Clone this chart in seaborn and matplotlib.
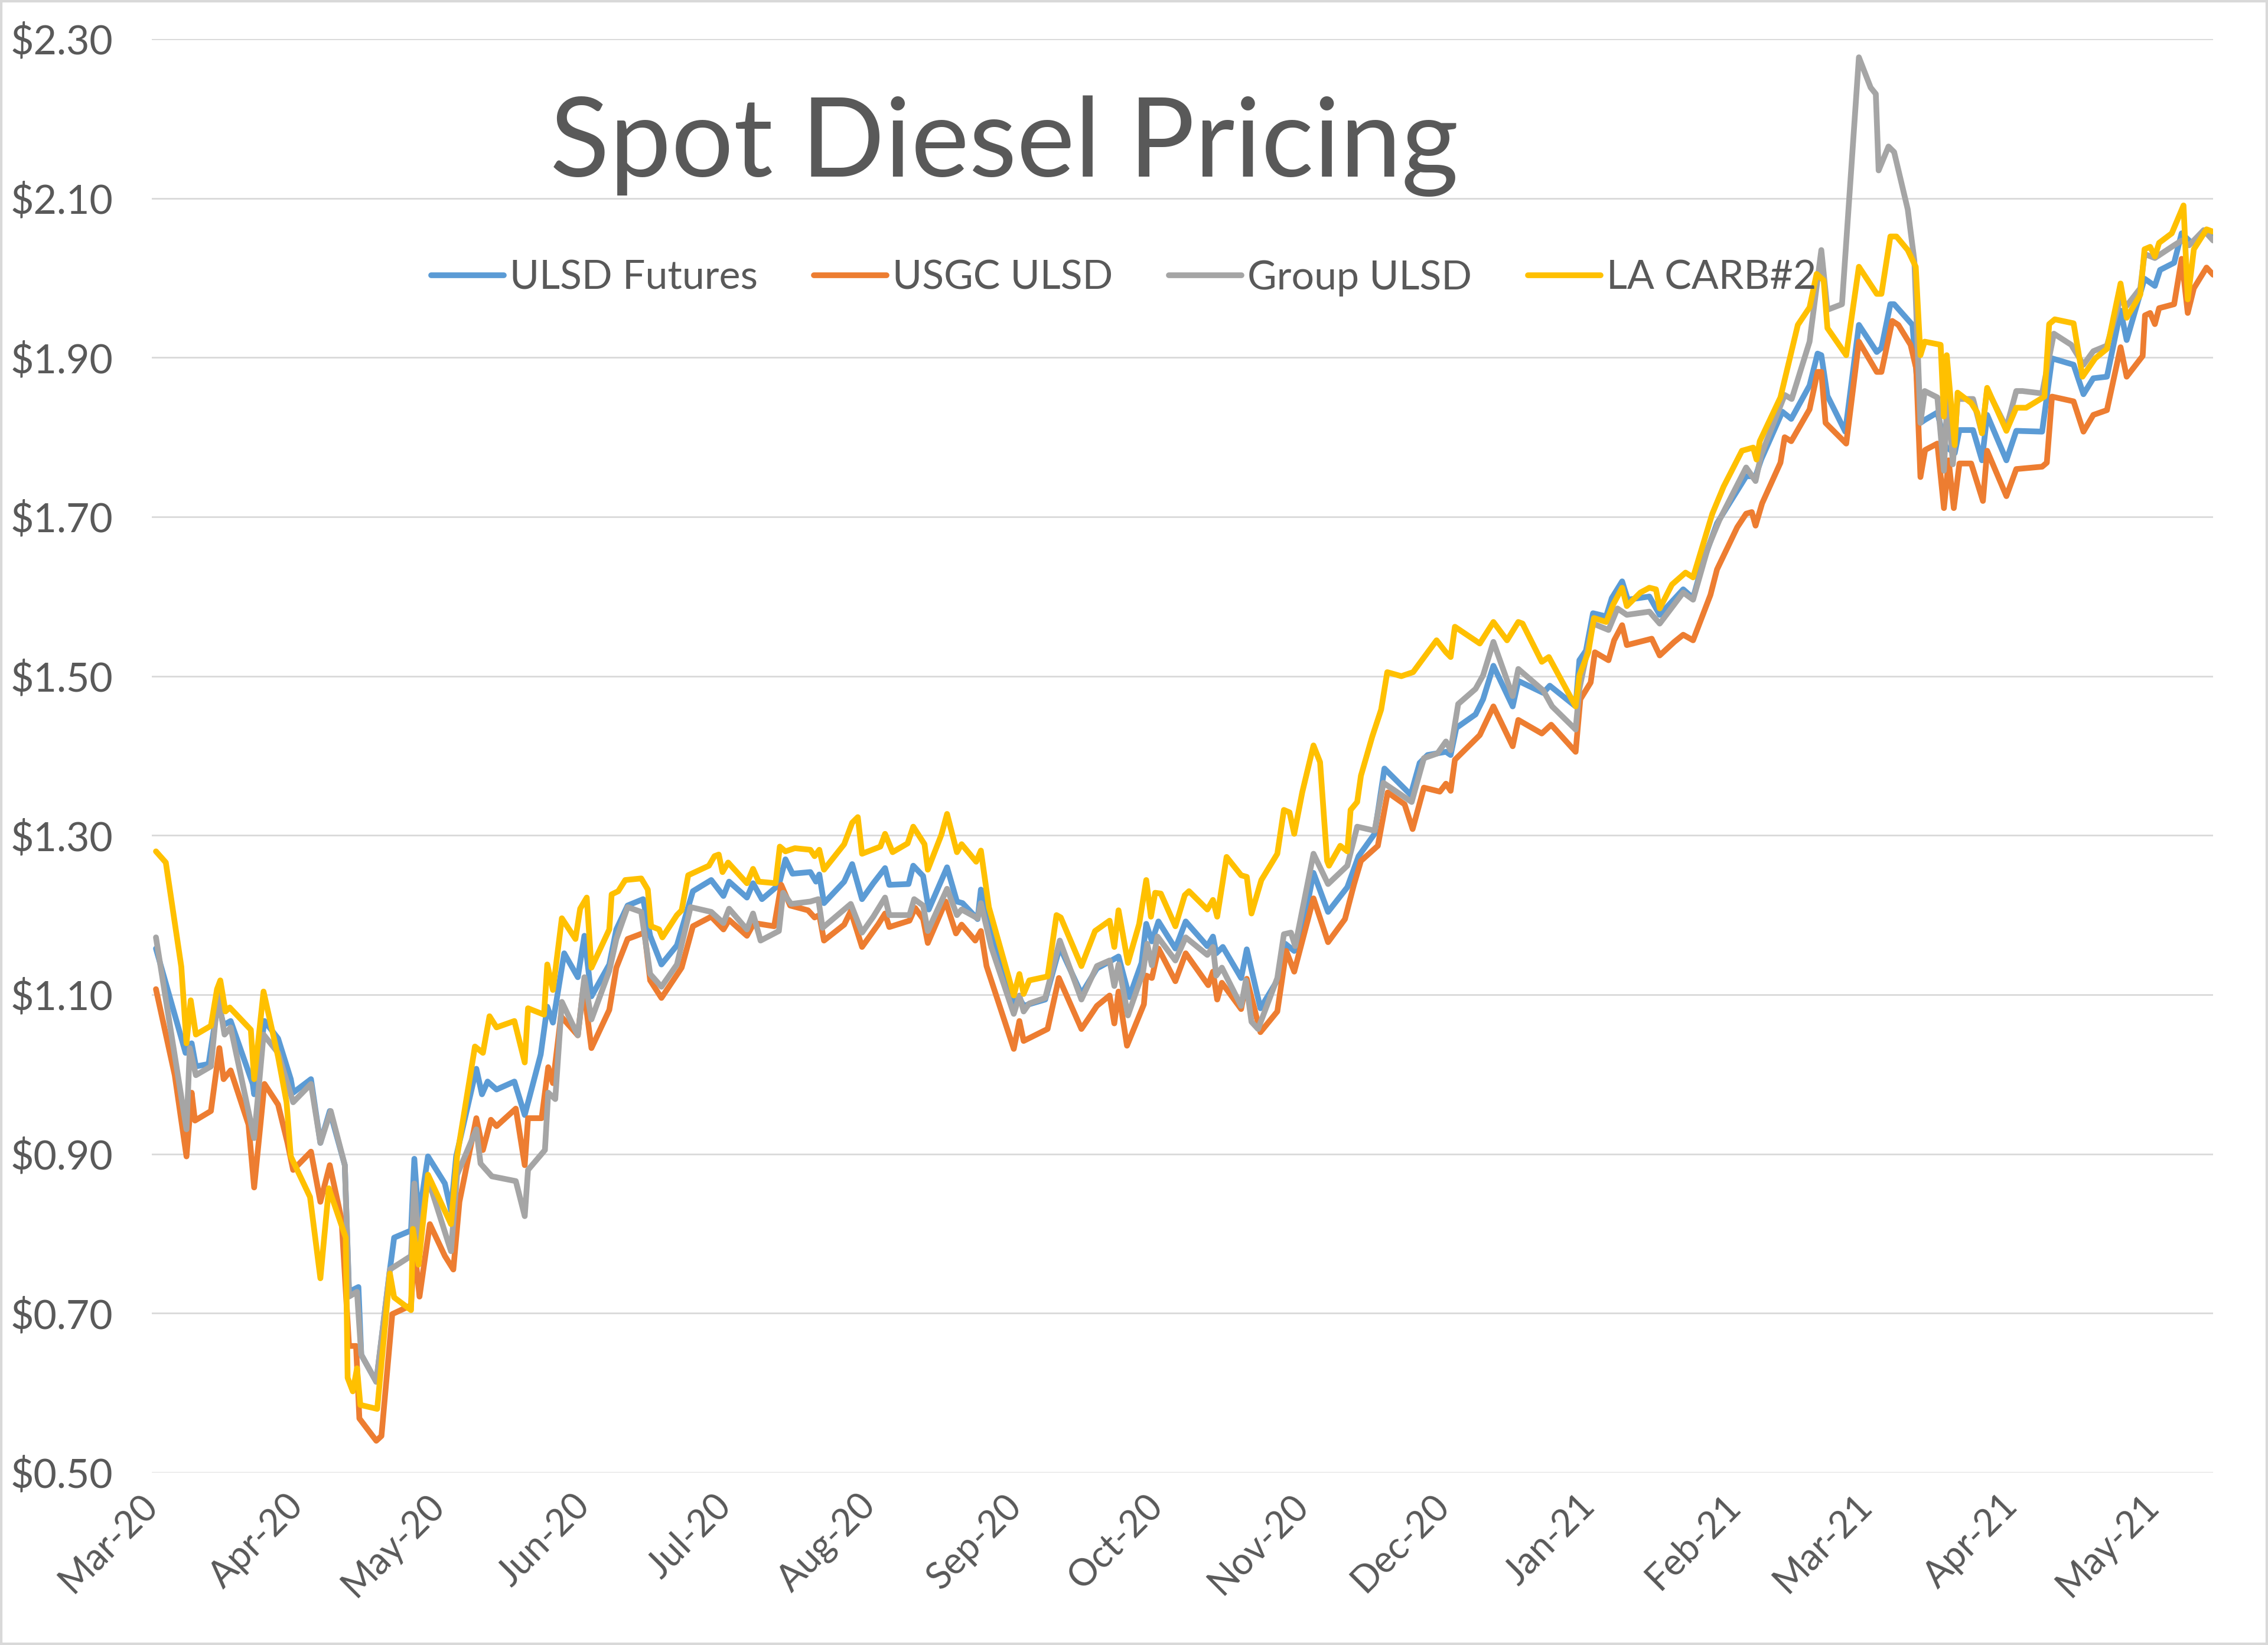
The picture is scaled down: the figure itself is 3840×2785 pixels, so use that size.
import numpy as np
import pandas as pd
import matplotlib
matplotlib.use("Agg")
import matplotlib.pyplot as plt
import matplotlib.dates as mdates
from matplotlib.ticker import FuncFormatter
from matplotlib.patches import Rectangle
import seaborn as sns

start = pd.Timestamp("2020-03-01")

# x values: days since 1 Mar 2020, y values: $/gal
ulsd_day = [0.9, 7.2, 8.5, 9.4, 12.1, 14.1, 15.3, 16.8, 21.5, 21.8, 24.0, 26.9, 29.6, 30.1, 33.9, 35.9, 37.9, 41.1, 42.0, 44.0, 44.6, 47.8, 50.7, 51.6, 55.2, 55.9, 56.8, 58.8, 62.4, 63.7, 64.8,
            69.1, 70.3, 71.5, 73.4, 77.2, 79.4, 82.8, 84.2, 85.4, 87.8, 90.7, 92.1, 93.6, 97.4, 98.9, 101.3, 104.6, 106.1, 108.5, 111.8, 115.2, 119.1, 121.7, 122.9, 126.7, 128.0, 129.9, 133.5, 134.9, 136.4,
            140.2, 141.4, 142.1, 143.1, 147.4, 149.1, 151.2, 153.6, 156.1, 157.0, 161.1, 162.1, 164.2, 165.4, 169.3, 171.4, 172.6, 175.8, 176.5, 178.7, 183.5, 184.7, 185.6, 190.2, 193.3, 197.9, 201.2, 203.7, 205.8,
            208.1, 210.7, 211.7, 212.9, 214.3, 217.9, 220.1, 224.7, 225.9, 226.6, 228.0, 231.9, 233.1, 236.0, 239.6, 241.3, 243.2, 244.9, 247.3, 250.4, 254.5, 256.9, 260.3, 262.4, 268.0, 269.9, 271.6,
            275.5, 276.5, 277.7, 281.8, 283.4, 285.6, 289.7, 290.9, 296.2, 297.6, 303.1, 303.9, 305.3, 306.8, 309.6, 310.8, 313.0, 314.2, 318.8, 321.0, 326.0, 328.1, 330.3, 333.2, 339.4, 341.4, 342.6, 347.1, 349.0,
            352.9, 354.6, 355.4, 356.7, 360.5, 363.4, 367.2, 368.2, 370.1, 370.9, 374.8, 376.5, 377.5, 380.1, 381.9, 383.8, 384.8, 387.7,
            389.6, 390.7, 394.8, 396.9, 402.4, 404.5, 409.1, 411.2, 413.3, 416.2, 419.1, 420.4, 424.2, 426.4, 427.5, 430.5, 432.1, 434.2, 437.1, 438.8]
ulsd_px = [1.158, 1.027, 1.039, 1.010, 1.013, 1.090, 1.062, 1.067, 0.988, 0.975, 1.067, 1.045, 0.994, 0.977, 0.994, 0.914, 0.954, 0.886, 0.727, 0.733, 0.648, 0.614, 0.755, 0.795, 0.804, 0.894, 0.818, 0.897, 0.863, 0.829, 0.897,
           1.007, 0.975, 0.991, 0.981, 0.991, 0.949, 1.025, 1.085, 1.065, 1.152, 1.122, 1.174, 1.098, 1.138, 1.182, 1.212, 1.220, 1.174, 1.138, 1.162, 1.230, 1.244, 1.224, 1.242, 1.222, 1.240, 1.220, 1.238, 1.270, 1.252,
           1.254, 1.242, 1.251, 1.215, 1.242, 1.264, 1.220, 1.240, 1.259, 1.238, 1.239, 1.262, 1.249, 1.207, 1.260, 1.217, 1.215, 1.195, 1.232, 1.175, 1.089, 1.096, 1.086, 1.094, 1.160, 1.101, 1.133, 1.141, 1.148,
           1.097, 1.140, 1.189, 1.167, 1.192, 1.158, 1.192, 1.161, 1.173, 1.152, 1.160, 1.121, 1.157, 1.083, 1.118, 1.164, 1.155, 1.180, 1.253, 1.204, 1.235, 1.274, 1.302, 1.384, 1.351, 1.391, 1.401,
           1.405, 1.401, 1.435, 1.452, 1.471, 1.513, 1.462, 1.494, 1.479, 1.488, 1.462, 1.520, 1.532, 1.579, 1.575, 1.598, 1.619, 1.596, 1.600, 1.577, 1.609, 1.598, 1.645, 1.692, 1.751, 1.751, 1.772, 1.832, 1.823,
           1.865, 1.905, 1.903, 1.852, 1.807, 1.941, 1.907, 1.912, 1.967, 1.967, 1.941, 1.818, 1.822, 1.831, 1.788, 1.780, 1.809, 1.809,
           1.771, 1.828, 1.771, 1.808, 1.807, 1.899, 1.891, 1.854, 1.874, 1.876, 1.959, 1.922, 1.999, 1.990, 2.010, 2.019, 2.056, 2.044, 2.058, 2.056]

usgc_day = [0.9, 4.9, 7.4, 8.5, 9.2, 12.6, 14.4, 15.3, 16.8, 20.6, 21.8, 24.0, 26.9, 28.9, 30.1, 33.9, 35.9, 37.9, 40.4, 42.0, 43.5, 44.2, 47.8, 48.9, 51.2, 55.2, 55.9, 57.0, 59.2, 62.4, 64.2, 65.5,
            69.1, 70.5, 72.2, 73.4, 77.5, 79.4, 80.1, 83.0, 84.4, 85.4, 87.1, 90.7, 91.9, 93.6, 97.4, 98.9, 101.3, 104.9, 106.1, 108.5, 112.8, 115.2, 119.1, 121.7, 122.9, 126.7, 128.2, 132.5, 134.0, 135.9,
            139.7, 141.1, 142.1, 143.1, 147.4, 148.8, 151.2, 154.6, 156.1, 157.0, 161.3, 162.5, 164.2, 165.2, 169.0, 171.2, 172.4, 175.3, 176.5, 177.7, 183.5, 184.7, 185.6, 190.7, 193.1, 197.9, 201.2, 203.9, 204.9, 205.8,
            207.6, 211.2, 211.7, 212.9, 214.3, 217.9, 220.1, 224.9, 225.9, 226.8, 227.8, 231.9, 233.1, 236.0, 239.6, 241.5, 243.2, 247.3, 250.4, 254.0, 255.9, 257.4, 261.0, 263.1, 266.7, 268.4, 270.8, 274.2,
            275.5, 276.5, 277.4, 282.7, 285.6, 289.7, 290.9, 295.9, 297.9, 303.1, 304.1, 306.3, 307.2, 310.1, 311.3, 313.0, 314.0, 319.3, 321.0, 324.1, 326.0, 328.1, 331.8, 333.2, 337.5, 339.4, 340.6, 341.4, 342.8, 346.7, 347.6, 349.0,
            352.9, 354.6, 355.4, 356.3, 360.7, 363.4, 367.2, 368.2, 370.5, 371.8, 374.4, 375.6, 376.5, 377.5, 380.1, 381.5, 382.5, 383.6, 384.8, 387.3,
            389.8, 390.7, 394.8, 396.9, 402.4, 403.4, 404.5, 409.1, 411.2, 413.3, 416.2, 419.1, 420.4, 423.8, 424.3, 425.4, 426.4, 427.3, 430.5, 432.1, 433.4, 434.7, 437.4, 438.8]
usgc_px = [1.107, 0.999, 0.897, 0.977, 0.942, 0.954, 1.033, 0.994, 1.005, 0.937, 0.858, 0.988, 0.962, 0.914, 0.880, 0.903, 0.840, 0.886, 0.818, 0.659, 0.659, 0.568, 0.540, 0.546, 0.699, 0.710, 0.784, 0.721, 0.812, 0.772, 0.755, 0.840,
           0.945, 0.905, 0.943, 0.935, 0.957, 0.886, 0.945, 0.945, 1.009, 0.989, 1.073, 1.049, 1.110, 1.033, 1.081, 1.134, 1.170, 1.178, 1.118, 1.096, 1.134, 1.186, 1.198, 1.182, 1.194, 1.174, 1.190, 1.186, 1.238, 1.212,
           1.206, 1.197, 1.200, 1.168, 1.188, 1.205, 1.160, 1.188, 1.202, 1.185, 1.193, 1.209, 1.195, 1.165, 1.217, 1.177, 1.188, 1.168, 1.180, 1.136, 1.032, 1.067, 1.042, 1.057, 1.121, 1.057, 1.086, 1.099, 1.064, 1.104,
           1.036, 1.088, 1.124, 1.121, 1.158, 1.117, 1.152, 1.112, 1.129, 1.094, 1.115, 1.082, 1.120, 1.053, 1.079, 1.155, 1.129, 1.221, 1.166, 1.195, 1.238, 1.268, 1.287, 1.354, 1.339, 1.308, 1.360, 1.355,
           1.365, 1.356, 1.395, 1.426, 1.462, 1.412, 1.445, 1.428, 1.439, 1.405, 1.471, 1.492, 1.530, 1.520, 1.545, 1.564, 1.539, 1.547, 1.526, 1.543, 1.552, 1.545, 1.602, 1.634, 1.687, 1.704, 1.706, 1.689, 1.717, 1.768, 1.800, 1.795,
           1.835, 1.882, 1.882, 1.818, 1.792, 1.920, 1.882, 1.882, 1.946, 1.941, 1.916, 1.886, 1.750, 1.784, 1.792, 1.711, 1.771, 1.711, 1.767, 1.767,
           1.720, 1.783, 1.726, 1.760, 1.763, 1.768, 1.851, 1.845, 1.807, 1.828, 1.834, 1.913, 1.876, 1.902, 1.953, 1.956, 1.942, 1.962, 1.967, 2.024, 1.956, 1.987, 2.013, 2.004]

group_day = [0.9, 7.4, 8.1, 9.4, 12.6, 14.1, 15.5, 16.8, 21.8, 23.8, 26.9, 30.1, 33.9, 35.9, 38.1, 41.1, 42.0, 43.7, 44.6, 47.8, 50.7, 55.2, 55.9, 56.8, 58.8, 63.7, 65.0,
             69.1, 70.0, 72.4, 77.5, 79.4, 80.1, 83.7, 84.4, 85.9, 87.3, 90.7, 92.1, 93.6, 97.4, 98.9, 101.3, 104.2, 106.1, 108.5, 111.8, 114.7, 119.1, 121.7, 122.9, 126.7, 128.0, 129.6, 133.5, 134.4, 136.1,
             140.2, 141.9, 142.8, 148.8, 151.2, 153.6, 156.1, 157.0, 161.3, 162.3, 164.2, 165.2, 169.3, 171.4, 172.4, 175.8, 176.5, 178.7, 183.5, 184.7, 185.6, 186.8, 190.2, 193.3, 197.9, 201.2, 203.9, 204.9, 205.8,
             207.8, 211.0, 211.9, 212.9, 214.1, 217.9, 220.1, 224.7, 225.9, 226.6, 227.8, 231.9, 232.9, 234.1, 235.5, 239.6, 241.0, 242.5, 243.4, 247.3, 250.4, 254.5, 256.6, 260.3, 262.2, 268.2, 270.8, 273.7,
             275.5, 276.5, 278.1, 281.8, 283.4, 285.6, 289.7, 290.9, 296.2, 298.1, 303.1, 303.9, 306.8, 310.1, 312.0, 314.0, 318.8, 321.0, 326.0, 328.1, 331.3, 333.7, 339.4, 341.4, 342.6, 347.6, 349.1,
             352.9, 355.4, 356.7, 359.8, 363.4, 365.9, 367.0, 367.6, 369.7, 370.9, 373.8, 375.2, 376.5, 377.4, 380.1, 381.5, 382.3, 383.4, 384.4, 387.7,
             389.6, 390.7, 394.8, 396.9, 398.2, 402.4, 404.9, 408.6, 411.2, 413.3, 416.2, 419.1, 420.4, 423.3, 424.2, 426.4, 430.5, 432.1, 433.7, 436.8, 438.8]
group_px = [1.172, 0.931, 1.033, 0.999, 1.010, 1.100, 1.050, 1.059, 0.920, 1.050, 1.027, 0.965, 0.988, 0.914, 0.954, 0.886, 0.721, 0.727, 0.648, 0.614, 0.755, 0.772, 0.863, 0.784, 0.869, 0.778, 0.874,
            0.931, 0.888, 0.872, 0.866, 0.822, 0.880, 0.905, 0.977, 0.969, 1.091, 1.049, 1.122, 1.069, 1.130, 1.170, 1.210, 1.204, 1.126, 1.110, 1.138, 1.210, 1.204, 1.190, 1.208, 1.182, 1.202, 1.168, 1.180, 1.228, 1.214,
            1.217, 1.220, 1.184, 1.214, 1.178, 1.198, 1.222, 1.200, 1.200, 1.220, 1.212, 1.180, 1.233, 1.200, 1.207, 1.196, 1.215, 1.160, 1.076, 1.099, 1.079, 1.089, 1.096, 1.168, 1.094, 1.136, 1.143, 1.111, 1.138,
            1.074, 1.128, 1.164, 1.137, 1.173, 1.143, 1.172, 1.150, 1.160, 1.124, 1.134, 1.086, 1.118, 1.066, 1.057, 1.121, 1.176, 1.178, 1.161, 1.277, 1.239, 1.262, 1.311, 1.306, 1.366, 1.342, 1.397, 1.403,
            1.418, 1.407, 1.465, 1.484, 1.501, 1.543, 1.475, 1.509, 1.482, 1.462, 1.433, 1.484, 1.566, 1.558, 1.585, 1.577, 1.581, 1.566, 1.605, 1.596, 1.662, 1.696, 1.762, 1.745, 1.778, 1.853, 1.848,
            1.920, 2.035, 1.960, 1.967, 2.277, 2.239, 2.231, 2.135, 2.165, 2.158, 2.086, 2.022, 1.818, 1.858, 1.850, 1.758, 1.860, 1.766, 1.848, 1.848,
            1.805, 1.860, 1.812, 1.858, 1.858, 1.855, 1.930, 1.916, 1.891, 1.908, 1.915, 1.975, 1.965, 1.987, 2.030, 2.025, 2.041, 2.047, 2.041, 2.060, 2.047]

carb_day = [0.9, 3.0, 6.3, 7.4, 8.3, 9.4, 12.6, 13.9, 14.6, 15.7, 16.6, 21.1, 21.8, 23.8, 26.9, 28.7, 29.6, 33.7, 35.9, 37.7, 41.3, 41.7, 42.8, 43.7, 44.4, 48.0, 50.7, 51.6, 55.2, 55.6, 56.8, 58.8, 63.7, 65.0,
            68.8, 70.5, 71.9, 73.4, 77.2, 79.4, 80.1, 83.5, 84.2, 85.4, 87.3, 90.2, 91.2, 92.6, 93.6, 97.4, 97.9, 99.3, 100.8, 104.2, 105.6, 106.3, 108.0, 108.7, 111.8, 112.8, 114.2, 118.6, 119.8, 120.7, 121.5, 122.7, 126.7, 128.0, 129.2, 132.8, 133.7, 134.9, 136.9,
            140.2, 141.1, 142.1, 143.1, 147.4, 149.1, 150.3, 151.2, 155.1, 156.1, 157.7, 160.9, 162.1, 164.5, 165.2, 168.1, 169.3, 171.4, 172.4, 175.5, 176.5, 178.2, 183.5, 184.7, 185.6, 186.8, 190.7, 192.6, 193.5, 197.9, 200.8, 203.9, 204.9, 205.8,
            207.8, 210.2, 211.7, 212.7, 213.6, 214.8, 217.9, 219.9, 220.8, 224.7, 225.9, 226.8, 228.8, 231.9, 233.1, 234.1, 236.2, 239.6, 241.0, 242.2, 243.2, 244.9, 247.3, 248.7, 250.2, 250.6, 253.0, 254.5, 255.2, 256.6, 257.4, 259.8, 261.7, 263.0, 266.0, 268.5, 271.0, 273.5,
            275.5, 276.5, 277.4, 282.7, 285.6, 288.5, 290.9, 291.8, 295.9, 297.4, 303.1, 303.9, 305.8, 307.0, 309.6, 311.1, 313.0, 314.0, 316.9, 318.8, 320.2, 321.0, 323.6, 326.5, 328.1, 332.2, 334.6, 338.5, 340.9, 341.6, 342.3, 346.7,
            350.4, 352.9, 354.4, 355.9, 356.7, 360.7, 363.4, 367.2, 368.2, 370.1, 371.4, 373.8, 375.5, 376.5, 377.4, 380.8, 381.5, 382.1, 383.8, 384.4, 387.3,
            388.6, 389.6, 390.7, 394.8, 396.9, 399.0, 402.9, 403.9, 405.1, 409.1, 411.0, 413.7, 416.2, 419.1, 420.4, 423.3, 424.2, 425.4, 426.4, 427.3, 430.0, 432.5, 433.4, 434.7, 437.4, 438.8]
carb_px = [1.280, 1.266, 1.135, 1.039, 1.093, 1.050, 1.061, 1.107, 1.118, 1.079, 1.084, 1.056, 0.994, 1.104, 1.022, 0.965, 0.897, 0.846, 0.744, 0.857, 0.795, 0.619, 0.602, 0.631, 0.585, 0.580, 0.750, 0.720, 0.704, 0.806, 0.761, 0.874, 0.812, 0.897,
           1.035, 1.027, 1.073, 1.059, 1.067, 1.015, 1.083, 1.075, 1.138, 1.106, 1.196, 1.170, 1.208, 1.222, 1.134, 1.182, 1.226, 1.230, 1.244, 1.246, 1.232, 1.186, 1.182, 1.172, 1.200, 1.206, 1.250, 1.262, 1.274, 1.276, 1.254, 1.266, 1.240, 1.258, 1.242, 1.240, 1.286, 1.280, 1.284,
           1.282, 1.274, 1.282, 1.257, 1.289, 1.316, 1.323, 1.277, 1.286, 1.302, 1.279, 1.290, 1.311, 1.289, 1.257, 1.301, 1.327, 1.279, 1.289, 1.267, 1.281, 1.210, 1.099, 1.126, 1.101, 1.118, 1.123, 1.200, 1.197, 1.136, 1.180, 1.193, 1.160, 1.206,
           1.140, 1.189, 1.244, 1.198, 1.228, 1.227, 1.186, 1.225, 1.230, 1.207, 1.219, 1.198, 1.273, 1.250, 1.248, 1.202, 1.244, 1.277, 1.332, 1.329, 1.302, 1.354, 1.413, 1.392, 1.268, 1.262, 1.287, 1.280, 1.332, 1.342, 1.375, 1.424, 1.458, 1.505, 1.500, 1.505, 1.525, 1.545,
           1.530, 1.524, 1.562, 1.541, 1.568, 1.545, 1.568, 1.566, 1.518, 1.524, 1.462, 1.501, 1.530, 1.573, 1.568, 1.590, 1.611, 1.588, 1.605, 1.611, 1.609, 1.585, 1.615, 1.630, 1.624, 1.704, 1.738, 1.783, 1.787, 1.772, 1.795, 1.850,
           1.941, 1.963, 2.005, 1.997, 1.937, 1.903, 2.014, 1.980, 1.980, 2.052, 2.052, 2.035, 2.014, 1.903, 1.920, 1.916, 1.826, 1.903, 1.790, 1.856, 1.843,
           1.831, 1.805, 1.862, 1.808, 1.837, 1.837, 1.851, 1.942, 1.948, 1.943, 1.876, 1.899, 1.911, 1.993, 1.950, 1.979, 2.036, 2.039, 2.027, 2.044, 2.056, 2.091, 1.973, 2.036, 2.061, 2.058]

series_names = ["ULSD Futures", "USGC ULSD", "Group ULSD", "LA CARB#2"]
series_colors = ["#5B9BD5", "#ED7D31", "#A5A5A5", "#FFC000"]
series_data = [(ulsd_day, ulsd_px), (usgc_day, usgc_px), (group_day, group_px), (carb_day, carb_px)]

sns.set_style("white")
plt.rcParams["font.family"] = ["Lato", "DejaVu Sans"]

text_color = "#595959"
fig = plt.figure(figsize=(38.4, 27.85), dpi=100)
ax = fig.add_axes([0.0669, 0.1048, 0.9089, 0.8715])

for name, color, (days, px) in zip(series_names, series_colors, series_data):
    dates = start + pd.to_timedelta(np.array(days), unit="D")
    sns.lineplot(x=dates, y=px, ax=ax, color=color, linewidth=7, label=name, estimator=None)

last_day = max(max(d) for d, _ in series_data)
ax.set_xlim(start, start + pd.Timedelta(days=last_day))
ax.set_ylim(0.5, 2.3)
ax.set_yticks(np.arange(0.5, 2.31, 0.2))
ax.yaxis.set_major_formatter(FuncFormatter(lambda v, p: "\\$" + f"{v:.2f}"))
ax.xaxis.set_major_locator(mdates.MonthLocator())
ax.xaxis.set_major_formatter(mdates.DateFormatter("%b-%y"))

ax.grid(axis="y", color="#D9D9D9", linewidth=2)
ax.grid(axis="x", visible=False)
for s in ax.spines.values():
    s.set_visible(False)
ax.tick_params(axis="y", length=0, labelsize=49, labelcolor=text_color, pad=47)
ax.tick_params(axis="x", length=0, labelsize=45, labelcolor=text_color, pad=34)
for lab in ax.get_xticklabels():
    lab.set_rotation(45)
    lab.set_ha("right")
    lab.set_va("center")
    lab.set_rotation_mode("anchor")
ax.set_xlabel("")
ax.set_ylabel("")

fig.text(0.4427, 0.8927, "Spot Diesel Pricing", ha="center", va="baseline",
         fontsize=134, color=text_color)

ax.legend(loc="center", bbox_to_anchor=(0.4955, 0.831), bbox_transform=fig.transFigure,
          ncol=4, frameon=False, fontsize=49, handlelength=1.8, handletextpad=0.15,
          columnspacing=1.4, labelcolor=text_color)

fig.patches.append(Rectangle((0, 0), 1, 1, transform=fig.transFigure, fill=False,
                             edgecolor="#D9D9D9", linewidth=6))

plt.savefig("out.png", dpi=100)
plt.close()
